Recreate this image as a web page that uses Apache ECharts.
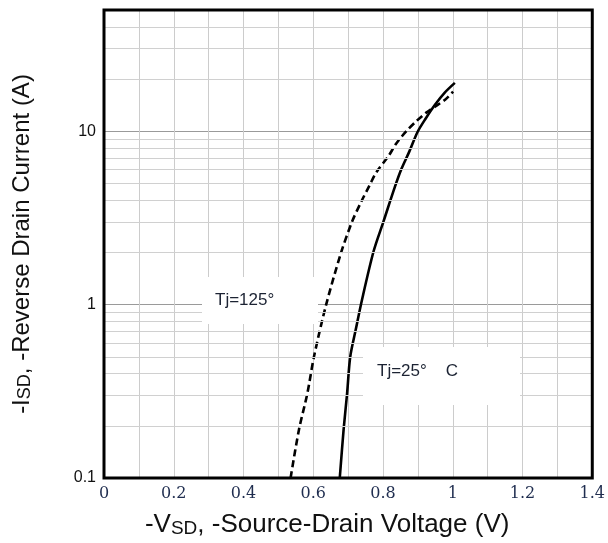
<!DOCTYPE html>
<html><head><meta charset="utf-8">
<script src="https://cdn.jsdelivr.net/npm/echarts@6/dist/echarts.min.js"></script>
<style>html,body{margin:0;padding:0;background:#fff}#c{width:608px;height:543px}</style>
</head><body><div id="c"></div>
<script>
// Tj = 25 °C (solid)
const vsd25 = [0.676, 0.687, 0.697, 0.706, 0.722, 0.739, 0.773, 0.801, 0.834, 0.853, 0.875, 0.899, 0.922, 0.949, 0.977, 1.006];
const isd25 = [0.1, 0.19, 0.307, 0.5, 0.72, 1.05, 2.03, 3.0, 4.77, 6.07, 7.6, 9.9, 11.8, 14.2, 16.7, 19];
// Tj = 125 °C (dashed)
const vsd125 = [0.535, 0.559, 0.583, 0.602, 0.637, 0.680, 0.711, 0.737, 0.762, 0.781, 0.816, 0.838, 0.867, 0.895, 0.924, 0.950, 0.978, 1.001];
const isd125 = [0.1, 0.19, 0.307, 0.5, 1.0, 2.0, 3.0, 3.9, 4.9, 5.8, 7.2, 8.5, 10.0, 11.4, 12.8, 13.9, 15.2, 16.9];
// axis ticks
const xTicks = [0, 0.2, 0.4, 0.6, 0.8, 1, 1.2, 1.4];
const yMajor = [0.1, 1, 10];
const yMinor = [0.2, 0.3, 0.4, 0.5, 0.6, 0.7, 0.8, 0.9, 2, 3, 4, 5, 6, 7, 8, 9, 20, 30, 40];
const label125 = 'Tj=125°';
const label25 = 'Tj=25°    C';

const pairs = (xs, ys) => xs.map((x, i) => [x, ys[i]]);

const chart = echarts.init(document.getElementById('c'), null, {renderer: 'canvas'});
chart.setOption({
  animation: false,
  backgroundColor: '#fff',
  grid: {left: 104, top: 10, right: 13, bottom: 61, show: true, borderColor: '#000', borderWidth: 3, z: 7, backgroundColor: 'transparent'},
  xAxis: {
    type: 'value', min: xTicks[0], max: xTicks[xTicks.length - 1], interval: 0.2,
    axisLine: {show: false}, axisTick: {show: false},
    axisLabel: {margin: 8, color: '#1f2d4f', fontFamily: 'DejaVu Serif', fontSize: 16},
    splitLine: {show: true, lineStyle: {color: '#cccccc', width: 1}},
    minorTick: {show: false, splitNumber: 2},
    minorSplitLine: {show: true, lineStyle: {color: '#cccccc', width: 1}},
    name: '{a|-V}{b|SD}{a|, -Source-Drain Voltage (V)}',
    nameLocation: 'middle', nameGap: 32,
    nameTextStyle: {
      padding: [0, 42, 0, 0],
      rich: {
        a: {fontFamily: 'Liberation Sans', fontSize: 26, color: '#111', verticalAlign: 'bottom', lineHeight: 28},
        b: {fontFamily: 'Liberation Sans', fontSize: 19, color: '#111', verticalAlign: 'bottom', lineHeight: 28}
      }
    }
  },
  yAxis: {
    type: 'log', logBase: 10, min: yMajor[0], max: 50,
    axisLine: {show: false}, axisTick: {show: false},
    axisLabel: {margin: 8, color: '#111', fontFamily: 'Liberation Sans', fontSize: 16, showMaxLabel: false,
      formatter: v => (yMajor.some(t => Math.abs(t - v) / t < 1e-6) ? String(v) : '')},
    splitLine: {show: true, lineStyle: {color: '#9a9a9a', width: 1}},
    name: '{a|-I}{b|SD}{a|, -Reverse Drain Current (A)}',
    nameLocation: 'middle', nameGap: 70,
    nameTextStyle: {
      rich: {
        a: {fontFamily: 'Liberation Sans', fontSize: 24, color: '#111', verticalAlign: 'bottom', lineHeight: 26},
        b: {fontFamily: 'Liberation Sans', fontSize: 18, color: '#111', verticalAlign: 'bottom', lineHeight: 26}
      }
    }
  },
  series: [
    {
      name: 'Tj=25°C', type: 'line', data: pairs(vsd25, isd25), symbol: 'none', smooth: 0.3, z: 2,
      lineStyle: {color: '#000', width: 2.6, type: 'solid'},
      markLine: {
        silent: true, symbol: 'none', z: 5, animation: false,
        label: {show: false},
        lineStyle: {color: '#d0d0d0', width: 1, type: 'solid'},
        data: yMinor.map(v => ({yAxis: v}))
      }
    },
    {
      name: 'Tj=125°C', type: 'line', data: pairs(vsd125, isd125), symbol: 'none', smooth: 0.3, z: 2,
      lineStyle: {color: '#000', width: 2.6, type: [7, 4]}
    }
  ],
  graphic: [
    {type: 'rect', z: 6, shape: {x: 202, y: 277, width: 116, height: 47}, style: {fill: '#fff'}, silent: true},
    {type: 'text', z: 6, x: 215, y: 300, style: {text: label125, fill: '#1c2333', font: '17px "Liberation Sans"', verticalAlign: 'middle', align: 'left'}, silent: true},
    {type: 'rect', z: 6, shape: {x: 363, y: 347, width: 157, height: 58}, style: {fill: '#fff'}, silent: true},
    {type: 'text', z: 6, x: 377, y: 371, style: {text: label25, fill: '#1c2333', font: '17px "Liberation Sans"', verticalAlign: 'middle', align: 'left'}, silent: true}
  ]
});
</script>
</body></html>
